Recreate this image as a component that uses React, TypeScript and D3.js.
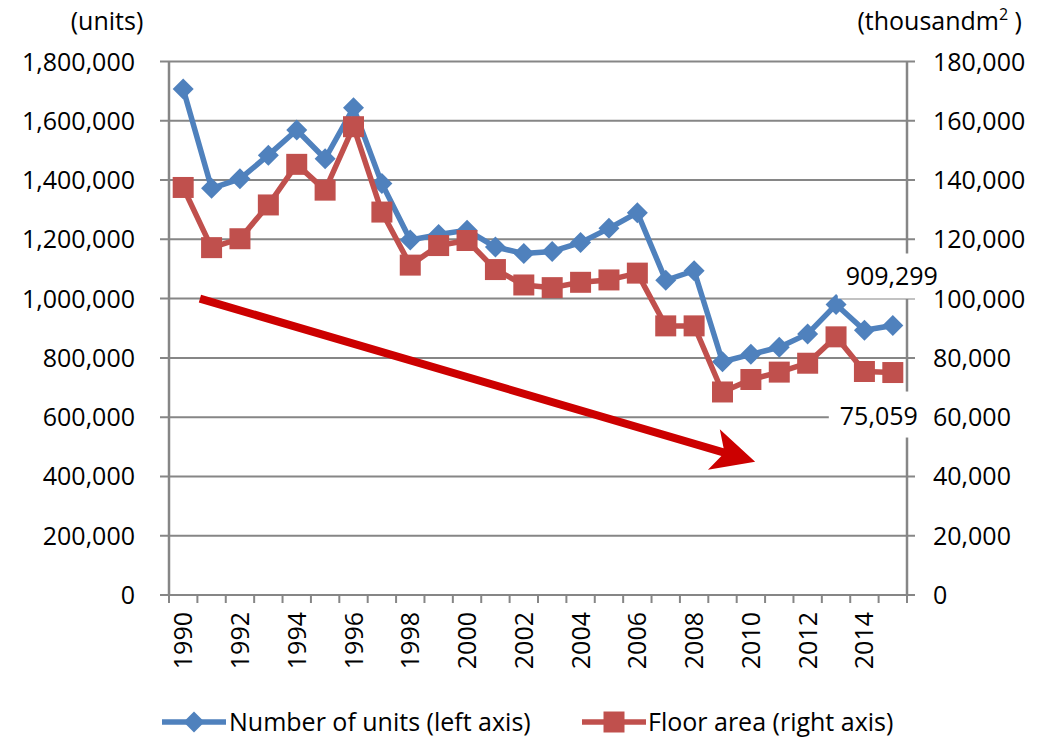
import React from 'react';
import * as d3 from 'd3';

const years = [1990, 1991, 1992, 1993, 1994, 1995, 1996, 1997, 1998, 1999, 2000, 2001, 2002, 2003, 2004, 2005, 2006, 2007, 2008, 2009, 2010, 2011, 2012, 2013, 2014, 2015];
const yearLabels = years.filter((_, i) => i % 2 === 0);
const units = [1707000, 1372000, 1404000, 1484000, 1569000, 1472000, 1644000, 1388000, 1198000, 1216000, 1231000, 1174000, 1152000, 1159000, 1189000, 1237000, 1290000, 1062000, 1094000, 787000, 812000, 836000, 881000, 980000, 893000, 909299];
const floorArea = [137500, 117200, 120200, 131600, 145300, 136600, 158000, 129200, 111300, 117900, 119600, 109800, 104600, 103700, 105500, 106300, 108600, 90800, 90800, 68500, 72700, 75200, 78200, 87100, 75400, 75059];
const leftTicks = [0, 200000, 400000, 600000, 800000, 1000000, 1200000, 1400000, 1600000, 1800000];
const rightTicks = [0, 20000, 40000, 60000, 80000, 100000, 120000, 140000, 160000, 180000];
const seriesNames = ['Number of units (left axis)', 'Floor area (right axis)'];
// trend arrow: [year index, left-axis value]
const arrowStart = [0.59, 1000000];
const arrowEnd = [20.15, 450000];

const BLUE = '#4F81BD';
const RED = '#C0504D';
const GRID = '#868686';
const FONT = "'Open Sans', sans-serif";
const FS = 25;

export default function App() {
  const W = 1046, H = 740;
  const x0 = 169, x1 = 907, yTop = 61.5, yBot = 595;
  const xBand = d3.scaleBand<number>().domain(years).range([x0, x1]).padding(0);
  const bw = xBand.bandwidth();
  const cx = (y: number) => (xBand(y) as number) + bw / 2;
  const xIdx = d3.scaleLinear().domain([0, years.length - 1]).range([cx(years[0]), cx(years[years.length - 1])]);
  const yL = d3.scaleLinear().domain([0, 1800000]).range([yBot, yTop]);
  const yR = d3.scaleLinear().domain([0, 180000]).range([yBot, yTop]);
  const fmt = d3.format(',');

  const lineL = d3.line<number>().x((_, i) => cx(years[i])).y(d => yL(d));
  const lineR = d3.line<number>().x((_, i) => cx(years[i])).y(d => yR(d));

  const r = 10.5;
  const diamond = `M0,${-r}L${r},0L0,${r}L${-r},0Z`;
  const square = `M${-r},${-r}H${r}V${r}H${-r}Z`;

  // arrow geometry
  const sx = xIdx(arrowStart[0]), sy = yL(arrowStart[1]);
  const tx = xIdx(arrowEnd[0]), ty = yL(arrowEnd[1]);
  const dx = tx - sx, dy = ty - sy;
  const len = Math.hypot(dx, dy);
  const ux = dx / len, uy = dy / len;
  const nx = -uy, ny = ux;
  const headLen = 43, headHW = 21, shaftHW = 4, notch = 9;
  const bx = tx - ux * headLen, by = ty - uy * headLen;
  const jx = bx + ux * notch, jy = by + uy * notch;
  const arrowPts = [
    [sx + nx * shaftHW, sy + ny * shaftHW],
    [jx + nx * shaftHW, jy + ny * shaftHW],
    [bx + nx * headHW, by + ny * headHW],
    [tx, ty],
    [bx - nx * headHW, by - ny * headHW],
    [jx - nx * shaftHW, jy - ny * shaftHW],
    [sx - nx * shaftHW, sy - ny * shaftHW],
  ];
  const arrowPath = 'M' + arrowPts.map(p => p.join(',')).join('L') + 'Z';

  const last = years.length - 1;
  const lblU = { x: cx(years[last]) - 1, y: yL(units[last]) - 49 };
  const lblF = { x: cx(years[last]) - 14, y: yR(floorArea[last]) + 44 };

  const boundaries = d3.range(years.length + 1).map(i => x0 + i * bw);

  return (
    <svg width={W} height={H} style={{ position: 'absolute', left: 0, top: 0, display: 'block', background: '#fff' }} fontFamily={FONT}>
      {/* gridlines */}
      {leftTicks.map(t => (
        <line key={'g' + t} x1={x0 - 9} x2={x1 + 8} y1={yL(t)} y2={yL(t)} stroke={GRID} strokeWidth={2} />
      ))}
      {/* axes */}
      <line x1={x0} x2={x0} y1={yTop} y2={yBot} stroke={GRID} strokeWidth={2.5} />
      <line x1={x1} x2={x1} y1={yTop} y2={yBot} stroke={GRID} strokeWidth={2.5} />
      {boundaries.map((b, i) => (
        <line key={'xt' + i} x1={b} x2={b} y1={yBot} y2={yBot + 8} stroke={GRID} strokeWidth={2} />
      ))}
      {/* trend arrow */}
      <path d={arrowPath} fill="#CC0000" />
      {/* series */}
      <path d={lineL(units) || ''} fill="none" stroke={BLUE} strokeWidth={5.5} strokeLinejoin="round" />
      {units.map((v, i) => (
        <path key={'u' + i} d={diamond} transform={`translate(${cx(years[i])},${yL(v)})`} fill={BLUE} />
      ))}
      <path d={lineR(floorArea) || ''} fill="none" stroke={RED} strokeWidth={5.5} strokeLinejoin="round" />
      {floorArea.map((v, i) => (
        <path key={'f' + i} d={square} transform={`translate(${cx(years[i])},${yR(v)})`} fill={RED} />
      ))}
      {/* data labels */}
      <rect x={lblU.x - 54} y={lblU.y - 23} width={108} height={45} fill="#fff" />
      <text x={lblU.x} y={lblU.y} dy="0.35em" textAnchor="middle" fontSize={FS} fill="#000">{fmt(units[last])}</text>
      <rect x={lblF.x - 50} y={lblF.y - 25} width={97} height={46} fill="#fff" />
      <text x={lblF.x} y={lblF.y} dy="0.35em" textAnchor="middle" fontSize={FS} fill="#000">{fmt(floorArea[last])}</text>
      {/* y tick labels */}
      {leftTicks.map(t => (
        <text key={'lt' + t} x={135} y={yL(t)} dy="0.36em" textAnchor="end" fontSize={FS} fill="#000">{fmt(t)}</text>
      ))}
      {rightTicks.map(t => (
        <text key={'rt' + t} x={933} y={yR(t)} dy="0.36em" textAnchor="start" fontSize={FS} fill="#000">{fmt(t)}</text>
      ))}
      {/* x tick labels */}
      {yearLabels.map(y => (
        <text key={'x' + y} transform={`translate(${cx(y)},612) rotate(-90)`} dy="0.36em" textAnchor="end" fontSize={FS} fill="#000">{y}</text>
      ))}
      {/* axis titles */}
      <text x={107} y={30} textAnchor="middle" fontSize={FS} fill="#000">(units)</text>
      <text x={1022} y={30} textAnchor="end" fontSize={FS} fill="#000">
        (thousandm<tspan fontSize={16} dy={-10}>2</tspan><tspan dy={10}> )</tspan>
      </text>
      {/* legend */}
      <line x1={162} x2={226} y1={722} y2={722} stroke={BLUE} strokeWidth={5.5} />
      <path d={diamond} transform="translate(194,722)" fill={BLUE} />
      <text x={229} y={722} dy="0.36em" fontSize={FS} fill="#000">{seriesNames[0]}</text>
      <line x1={582} x2={646} y1={722} y2={722} stroke={RED} strokeWidth={5.5} />
      <path d={square} transform="translate(614,722)" fill={RED} />
      <text x={648} y={722} dy="0.36em" fontSize={FS} fill="#000">{seriesNames[1]}</text>
    </svg>
  );
}
